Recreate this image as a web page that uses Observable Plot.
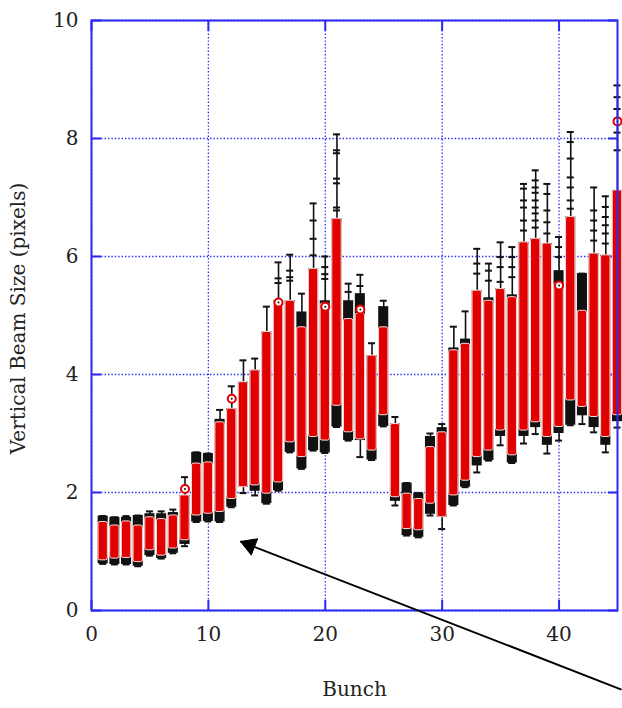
<!DOCTYPE html>
<html>
<head>
<meta charset="utf-8">
<script src="https://cdn.jsdelivr.net/npm/d3@7"></script>
<script src="https://cdn.jsdelivr.net/npm/@observablehq/plot@0.6"></script>
<style>
  html, body { margin: 0; padding: 0; background: #fff; overflow: hidden; }
</style>
</head>
<body>
<div id="chart"></div>
<script>
// Vertical beam size per bunch: error-bar extent (black whiskers),
// dense black marker boxes, and the red band of overlapping measurements.
const bunches = [1,2,3,4,5,6,7,8,9,10,11,12,13,14,15,16,17,18,19,20,21,22,23,24,25,26,27,28,29,30,31,32,33,34,35,36,37,38,39,40,41,42,43,44,45];
const whiskerHigh = [1.60,1.58,1.60,1.61,1.68,1.68,1.71,2.26,2.68,2.66,3.40,3.80,4.24,4.27,5.15,5.90,6.03,5.37,6.90,6.00,8.07,5.54,5.69,4.53,5.25,3.28,2.16,1.99,3.00,3.16,4.81,5.07,6.13,5.88,6.24,6.16,7.23,7.46,7.23,6.33,8.11,5.71,7.17,7.02,8.90];
const blackHigh   = [1.60,1.58,1.58,1.61,1.64,1.64,1.66,1.95,2.68,2.66,3.24,3.42,3.87,4.07,4.72,5.25,5.25,5.06,5.79,5.25,6.64,5.25,5.37,4.32,5.15,3.16,2.16,1.99,2.95,3.10,4.45,4.60,5.42,5.30,5.45,5.35,6.24,6.30,6.22,5.76,6.67,5.71,6.05,6.02,7.12];
const redHigh     = [1.50,1.44,1.51,1.44,1.58,1.55,1.61,1.95,2.49,2.51,3.19,3.42,3.87,4.07,4.72,5.25,5.25,4.80,5.79,5.20,6.64,4.94,5.03,4.32,4.80,3.16,1.98,1.89,2.77,3.02,4.41,4.52,5.42,5.25,5.45,5.31,6.24,6.30,6.22,5.55,6.67,5.08,6.05,6.02,7.12];
const redLow      = [0.85,0.88,0.89,0.82,1.02,0.93,1.05,1.19,1.61,1.64,1.67,1.89,2.09,2.12,1.98,2.17,2.85,2.60,2.94,2.88,3.47,3.02,2.90,2.71,3.31,1.92,1.38,1.36,1.81,1.58,1.95,2.20,2.60,2.71,3.05,2.63,3.05,3.19,2.94,3.11,3.56,3.45,3.28,2.94,3.31];
const blackLow    = [0.79,0.78,0.78,0.75,0.93,0.88,0.97,1.12,1.50,1.51,1.50,1.75,2.09,2.02,1.81,2.03,2.68,2.40,2.71,2.67,3.11,2.88,2.88,2.55,3.12,1.85,1.27,1.24,1.63,1.58,1.78,2.09,2.45,2.54,2.95,2.50,2.95,3.10,2.80,3.00,3.14,3.30,3.10,2.80,3.20];
const whiskerLow  = [0.79,0.78,0.78,0.75,0.93,0.88,0.97,1.09,1.50,1.51,1.50,1.75,1.99,1.95,1.81,2.03,2.68,2.40,2.71,2.67,3.11,2.88,2.60,2.55,3.12,1.78,1.27,1.24,1.61,1.38,1.78,2.09,2.34,2.54,2.80,2.50,2.83,2.99,2.66,2.88,3.14,3.16,3.02,2.68,3.10];

// Intermediate error-bar caps along the taller whiskers: [bunch, value]
const innerCaps = [
  [16,5.63],[16,5.55],[17,5.76],[17,5.65],[17,5.59],
  [19,6.61],[19,6.30],[19,6.02],[20,5.82],[20,5.70],[20,5.62],
  [21,7.80],[21,7.75],[21,7.32],[21,7.24],[21,6.83],[21,6.78],
  [22,5.40],[23,5.50],[33,5.88],[33,5.71],[34,5.76],[34,5.59],
  [35,5.99],[35,5.82],[35,5.57],[36,5.99],[36,5.82],[36,5.65],
  [37,7.15],[37,6.95],[37,6.83],[37,6.61],[37,6.44],
  [38,7.29],[38,7.17],[38,7.08],[38,6.95],[38,6.83],[38,6.73],[38,6.61],[38,6.49],
  [39,7.06],[39,6.78],[39,6.58],[39,6.39],[40,6.16],[40,5.99],
  [41,7.94],[41,7.66],[41,7.34],[41,7.17],[41,6.95],[41,6.81],
  [43,6.78],[43,6.61],[43,6.44],[43,6.27],
  [44,6.84],[44,6.67],[44,6.53],[44,6.39],[44,6.22],
  [45,8.70],[45,8.50],[45,8.10],[45,7.80]
];

// Open circle markers standing out of the red bands: [bunch, value]
const openMarkers = [[8,2.06],[12,3.59],[16,5.22],[20,5.15],[23,5.10],[40,5.51],[45,8.29]];

// Annotation arrow: tail (off to the lower right) and head
const arrowTail = [45.34, -1.34];
const arrowHead = [12.75, 1.17];

const xTicks = [0, 10, 20, 30, 40];
const yTicks = [0, 2, 4, 6, 8, 10];
const xTitle = "Bunch";
const yTitle = "Vertical Beam Size (pixels)";

const W = 622, H = 708;
const M = {left: 91, right: 5, top: 20, bottom: 98};
const xDomain = [0, 45], yDomain = [0, 10];

const rows = bunches.map((b, i) => ({
  b,
  wHi: whiskerHigh[i], wLo: whiskerLow[i],
  bHi: blackHigh[i], bLo: blackLow[i],
  rHi: redHigh[i], rLo: redLow[i]
}));
const caps = [
  ...rows.flatMap(d => [{b: d.b, v: d.wHi}, {b: d.b, v: d.wLo}]),
  ...innerCaps.map(([b, v]) => ({b, v}))
];
const markers = openMarkers.map(([b, v]) => ({b, v}));
const arrowData = [{x1: arrowTail[0], y1: arrowTail[1], x2: arrowHead[0], y2: arrowHead[1]}];

// Arrowhead orientation in screen space (pixels per data unit on each axis)
const kx = (W - M.left - M.right) / (xDomain[1] - xDomain[0]);
const ky = (H - M.top - M.bottom) / (yDomain[1] - yDomain[0]);
const dirX = (arrowHead[0] - arrowTail[0]) * kx;
const dirY = -(arrowHead[1] - arrowTail[1]) * ky;
const dirLen = Math.hypot(dirX, dirY);
const ux = dirX / dirLen, uy = dirY / dirLen;
const headRotate = Math.atan2(ux, -uy) * 180 / Math.PI;
const headR = 6.4;                                   // symbol radius
const headTip = 2 * Math.sqrt(Math.PI * headR * headR / (3 * Math.sqrt(3))); // centroid-to-tip distance

const blue = "#2a2af2";
const red = "#e00000";
const ink = "#111";
const plain = d => String(d);

const chart = Plot.plot({
  width: W,
  height: H,
  marginLeft: M.left,
  marginRight: M.right,
  marginTop: M.top,
  marginBottom: M.bottom,
  x: {domain: xDomain},
  y: {domain: yDomain},
  style: {fontFamily: "DejaVu Serif", fontSize: "20px", color: "#222", background: "#fff"},
  marks: [
    Plot.gridX(xTicks, {stroke: blue, strokeOpacity: 1, strokeWidth: 1.3, strokeDasharray: "1.4,2"}),
    Plot.gridY(yTicks, {stroke: blue, strokeOpacity: 1, strokeWidth: 1.3, strokeDasharray: "1.4,2"}),
    // inward tick marks on all four sides of the frame
    Plot.axisX(xTicks, {anchor: "bottom", tickSize: 10, dy: -10, tickFormat: () => "", label: null, stroke: blue, strokeWidth: 2}),
    Plot.axisX(xTicks, {anchor: "top", tickSize: 10, dy: 10, tickFormat: () => "", label: null, stroke: blue, strokeWidth: 2}),
    Plot.axisY(yTicks, {anchor: "left", tickSize: 10, dx: 10, tickFormat: () => "", label: null, stroke: blue, strokeWidth: 2}),
    Plot.axisY(yTicks, {anchor: "right", tickSize: 10, dx: -10, tickFormat: () => "", label: null, stroke: blue, strokeWidth: 2}),
    // tick labels
    Plot.axisX(xTicks, {anchor: "bottom", tickSize: 0, tickPadding: 16, tickFormat: plain, label: null}),
    Plot.axisY(yTicks, {anchor: "left", tickSize: 0, tickPadding: 13, tickFormat: plain, label: null}),
    // axis titles
    Plot.text([xTitle], {frameAnchor: "bottom", dy: 85, fontSize: 20}),
    Plot.text([yTitle], {frameAnchor: "left", textAnchor: "middle", dx: -73, dy: 3, rotate: -90, fontSize: 20}),
    // whiskers, caps, marker boxes and red bands
    Plot.ruleX(rows, {x: "b", y1: "wLo", y2: "wHi", stroke: ink, strokeWidth: 1.6}),
    Plot.ruleY(caps, {y: "v", x1: d => d.b - 0.3, x2: d => d.b + 0.3, stroke: ink, strokeWidth: 2}),
    Plot.rect(rows, {x1: d => d.b - 0.43, x2: d => d.b + 0.43, y1: "bLo", y2: "bHi", fill: ink}),
    Plot.rect(rows, {x1: d => d.b - 0.40, x2: d => d.b + 0.40, y1: "rLo", y2: "rHi", fill: red, stroke: "#ffdcdc", strokeWidth: 1, rx: 2}),
    Plot.dot(markers, {x: "b", y: "v", r: 4, fill: "#fff", stroke: red, strokeWidth: 2}),
    Plot.dot(markers, {x: "b", y: "v", r: 1, fill: ink}),
    Plot.frame({stroke: blue, strokeWidth: 2}),
    // pointer: shaft plus a solid triangular head whose tip sits on the head point
    Plot.link(arrowData, {x1: "x1", y1: "y1", x2: "x2", y2: "y2", stroke: "#000", strokeWidth: 2, clip: false}),
    Plot.dot([arrowHead], {
      x: d => d[0], y: d => d[1], symbol: "triangle", r: headR, rotate: headRotate,
      fill: "#000", stroke: "#000", strokeWidth: 1, strokeLinejoin: "round",
      dx: -ux * headTip, dy: -uy * headTip, clip: false
    })
  ]
});

document.getElementById("chart").append(chart);
</script>
</body>
</html>
